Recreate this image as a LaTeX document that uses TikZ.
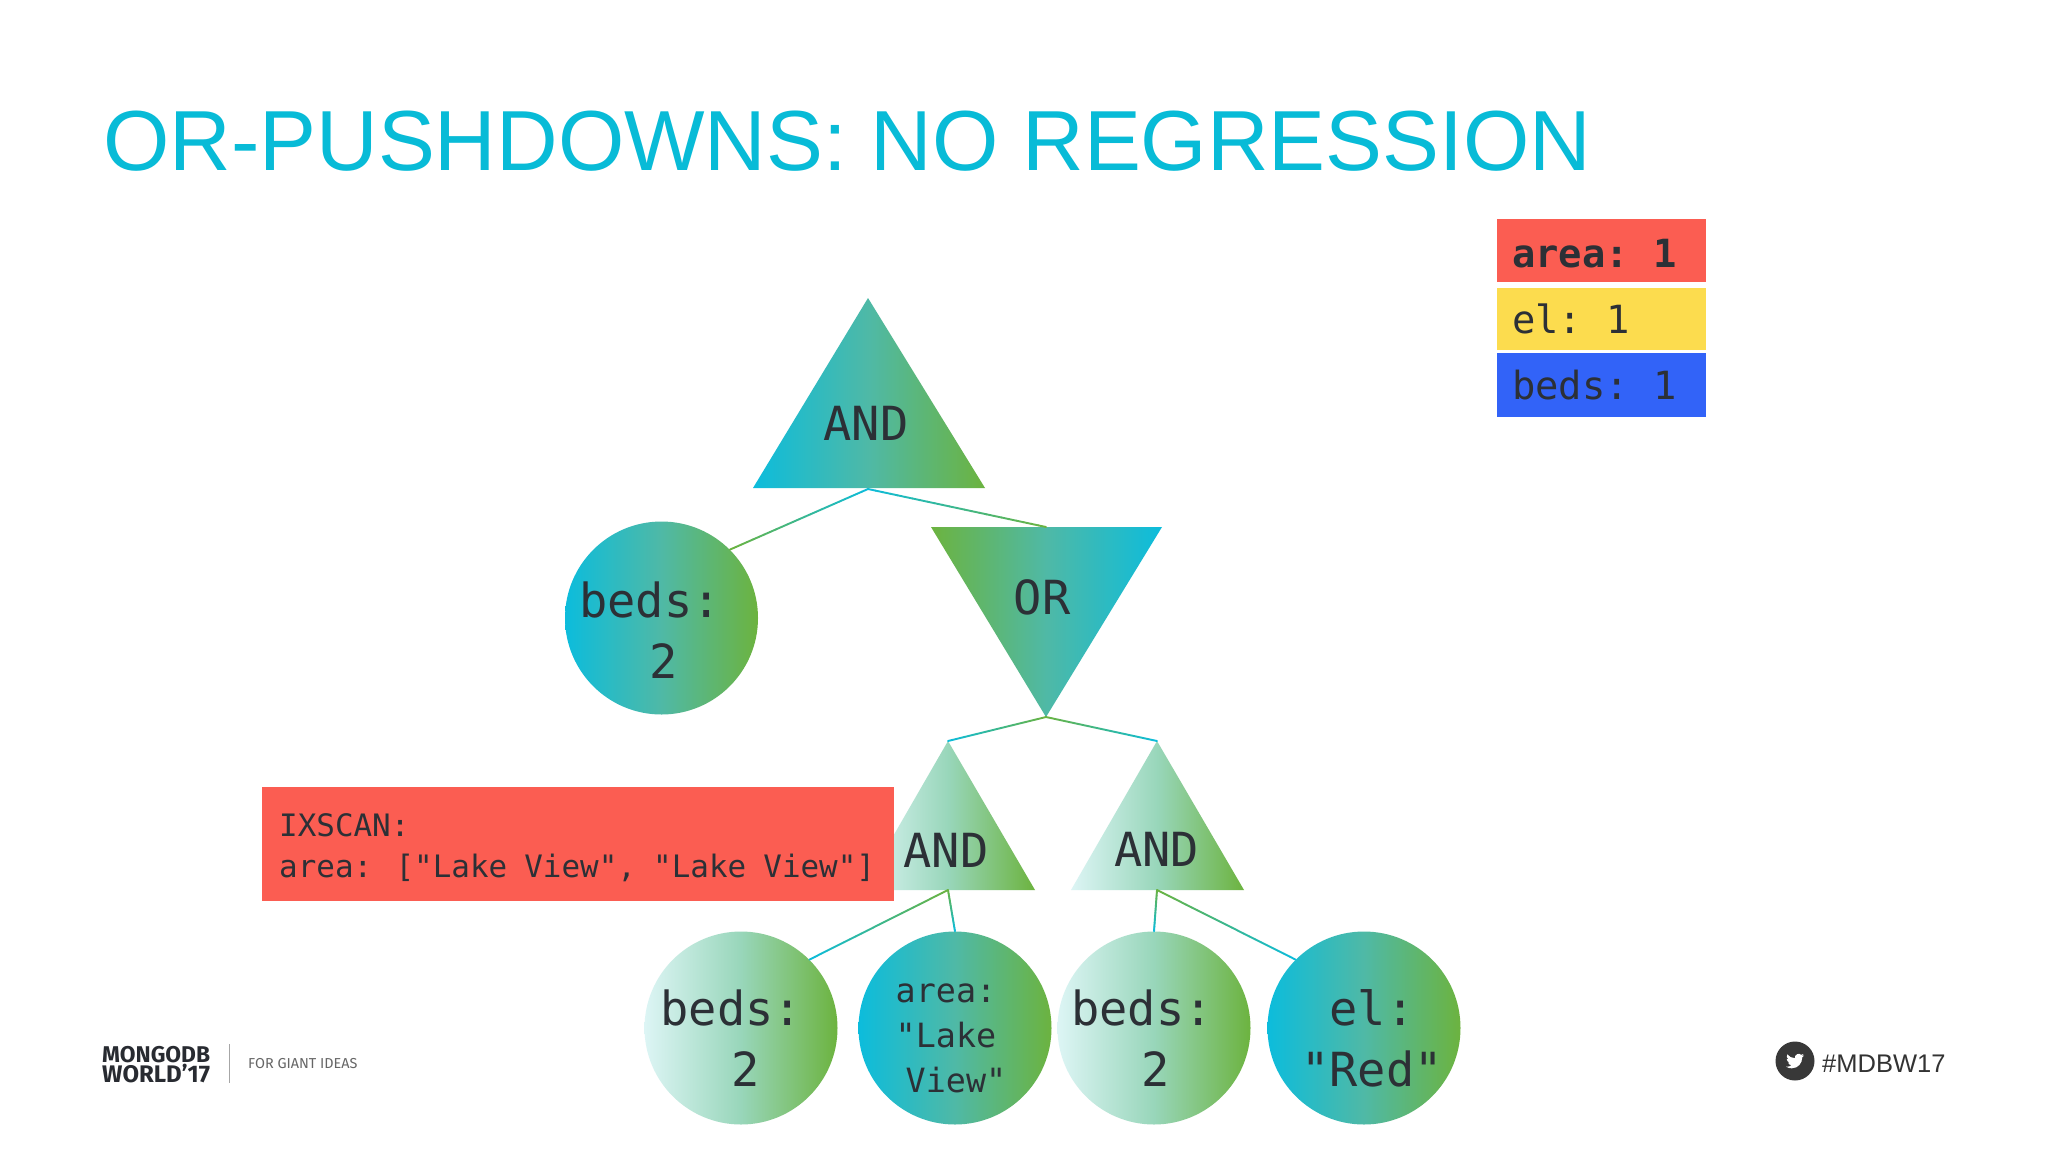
\documentclass[tikz,border=0pt]{standalone}
\usepackage{fontspec}
\setmainfont{Liberation Sans}
\newfontfamily\monof{DejaVu Sans Mono}
\newfontfamily\firaf{Fira Sans}
\usetikzlibrary{calc}
\definecolor{cy}{HTML}{0CBCDC}
\definecolor{gr}{HTML}{6CB33F}
\definecolor{midc}{HTML}{4FB9A6}
\definecolor{pale}{HTML}{DDF5F5}
\definecolor{midg}{HTML}{98D6BA}
\definecolor{ink}{HTML}{2C3036}
\definecolor{redb}{HTML}{FB5D52}
\definecolor{yelb}{HTML}{FCDC4E}
\definecolor{blub}{HTML}{3263F8}
\definecolor{titlec}{HTML}{08BBD7}
\newcommand{\fsz}[2]{\fontsize{#1}{#2}\selectfont}
\newcommand{\gradline}[4]{%
  \foreach \i in {1,...,24}{%
    \pgfmathsetmacro{\ta}{(\i-1)/24}\pgfmathsetmacro{\tb}{\i/24}%
    \pgfmathsetmacro{\mixv}{100-100*(\i-0.5)/24}%
    \draw[conn,color=#3!\mixv!#4] ($(#1)!\ta!(#2)$) -- ($(#1)!\tb!(#2)$);}}
\tikzset{
  conn/.style={line width=1.9pt,line cap=round},
  strongtri/.style={left color=cy,right color=gr,middle color=midc,draw=none},
  ortri/.style={left color=gr,right color=cy,middle color=midc,draw=none},
  paletri/.style={left color=pale,right color=gr,middle color=midg,draw=none},
  ball/.style={circle,minimum size=193pt,inner sep=0pt},
  strongball/.style={ball,left color=cy,right color=gr,middle color=midc},
  paleball/.style={ball,left color=pale,right color=gr,middle color=midg},
  balltext/.style={text=ink,align=center,inner sep=0pt},
  big/.style={balltext,font=\monof\fsz{47}{61}},
  small/.style={balltext,font=\monof\fsz{33.4}{45}},
  lab/.style={text=ink,font=\monof\fsz{47}{55},anchor=base,inner sep=0pt},
  line/.style={anchor=base west,inner sep=0pt,text=ink},
  scanline/.style={line,font={\monof\fsz{30.9}{41}\spaceskip=17.2pt\relax}},
  keyline/.style={line,font={\monof\fsz{38.8}{40}\spaceskip=16.4pt\relax}},
  keybold/.style={line,font={\monof\bfseries\fsz{38.8}{40}\spaceskip=16.4pt\relax}}
}
\begin{document}
\begin{tikzpicture}[x=1pt,y=-1pt]
\useasboundingbox (0,0) rectangle (2048,1152);
\fill[white] (0,0) rectangle (2048,1152);

\node[anchor=base west,inner sep=0pt,text=titlec,font=\fsz{85.3}{90}] (title) at (103,170) {OR-PUSHDOWNS: NO REGRESSION};

\coordinate (t1a) at (868,298); \coordinate (t1l) at (753,488); \coordinate (t1r) at (985,488);
\coordinate (t1b) at (868,489);
\coordinate (t2l) at (931,527); \coordinate (t2r) at (1162,527); \coordinate (t2a) at (1046,717);
\coordinate (t2t) at (1046,527);
\coordinate (t3a) at (948,741); \coordinate (t3l) at (862,890); \coordinate (t3r) at (1035,890);
\coordinate (t3b) at (948,890);
\coordinate (t4a) at (1157,741); \coordinate (t4l) at (1071,890); \coordinate (t4r) at (1244,890);
\coordinate (t4b) at (1157,890);

\shade[strongtri] (t1a) -- (t1r) -- (t1l) -- cycle;
\shade[ortri] (t2l) -- (t2r) -- (t2a) -- cycle;
\shade[paletri] (t3a) -- (t3r) -- (t3l) -- cycle;
\shade[paletri] (t4a) -- (t4r) -- (t4l) -- cycle;

\node[strongball] (beds1) at (661.5,618) {};
\node[paleball] (beds2) at (741,1028) {};
\node[strongball] (area) at (955,1028) {};
\node[paleball] (beds3) at (1154,1028) {};
\node[strongball] (el) at (1364,1028) {};

\node[big] (beds1t) at (664,630) {beds:\phantom{x}\\2};
\node[big] (beds2t) at (745.5,1038.5) {beds:\phantom{x}\\2};
\node[small] (areat) at (956,1038.5) {area:\phantom{x}\\"Lake\phantom{x}\\View"};
\node[big] (beds3t) at (1156,1038.5) {beds:\phantom{x}\\2};
\node[big] (elt) at (1372,1038.5) {el:\\"Red"};

\gradline{t1b}{beds1.45}{cy}{gr}
\gradline{t1b}{t2t}{cy}{gr}
\gradline{t2a}{t3a}{gr}{cy}
\gradline{t2a}{t4a}{gr}{cy}
\gradline{t3b}{beds2.45}{gr}{cy}
\gradline{t3b}{area.90}{gr}{cy}
\gradline{t4b}{beds3.90}{gr}{cy}
\gradline{t4b}{el.135}{gr}{cy}

\node[lab] (and1) at (866,440) {AND};
\node[lab] (or1) at (1042,614) {OR};
\node[lab] (and2) at (946,867) {AND};
\node[lab] (and3) at (1156.5,866) {AND};

\fill[redb] (262,787) rectangle (894,901);
\node[scanline] (scan) at (279,836) {IXSCAN:};
\node[scanline] (scan2) at (279,877) {area: ["Lake View", "Lake View"]};

\fill[redb] (1497,219) rectangle (1706,282);
\fill[yelb] (1497,288) rectangle (1706,350);
\fill[blub] (1497,353) rectangle (1706,417);
\node[keybold] (lg1) at (1512,267) {area: 1};
\node[keyline] (lg2) at (1512,333) {el: 1};
\node[keyline] (lg3) at (1512,399) {beds: 1};

\node[line,text=ink!90!black,font=\firaf\bfseries\fsz{22.8}{24}] (lg4) at (102,1062) {MONGODB};
\node[line,text=ink!90!black,font=\firaf\bfseries\fsz{24}{24}] (lg5) at (102,1082) {WORLD’17};
\draw[line width=1.2pt,color=black!35] (229.5,1044) -- (229.5,1083);
\node[line,text=black!60,font=\firaf\fsz{14.4}{15}] (lg6) at (248,1068.5) {FOR GIANT IDEAS};

\fill[black!78] (1795,1061) circle (19.5);
\begin{scope}[shift={(1786,1052)},x=0.75pt,y=-0.75pt]
\fill[white] (23.95,4.57) -- (21.13,5.35) .. controls (22.1,4.8) and (22.9,3.8) .. (23.29,2.62)
 .. controls (22.34,3.18) and (21.28,3.58) .. (20.16,3.80)
 .. controls (18.9,2.4) and (16.6,1.9) .. (14.8,2.9)
 .. controls (12.8,3.9) and (11.3,6.1) .. (11.78,8.29)
 .. controls (7.69,8.1) and (4.07,6.13) .. (1.64,3.16)
 .. controls (0.4,5.3) and (1,8.3) .. (3.16,9.73)
 -- (0.93,9.12) -- (0.93,9.18)
 .. controls (0.93,11.5) and (2.6,13.5) .. (4.88,14)
 -- (2.67,14.09)
 .. controls (3.3,16) and (5.1,17.4) .. (7.27,17.5)
 .. controls (5.6,18.8) and (3.5,19.7) .. (1.17,19.6)
 -- (0,19.54)
 .. controls (2.2,20.9) and (4.8,21.75) .. (7.56,21.75)
 .. controls (16.6,21.75) and (21.55,14.25) .. (21.55,7.77)
 -- (21.54,7.14) .. controls (22.5,6.4) and (23.3,5.6) .. (24,4.59) -- cycle;
\end{scope}
\node[line,text=black!80,font=\fsz{25.5}{26}] (hash) at (1822,1072) {\#MDBW17};
\end{tikzpicture}
\end{document}
